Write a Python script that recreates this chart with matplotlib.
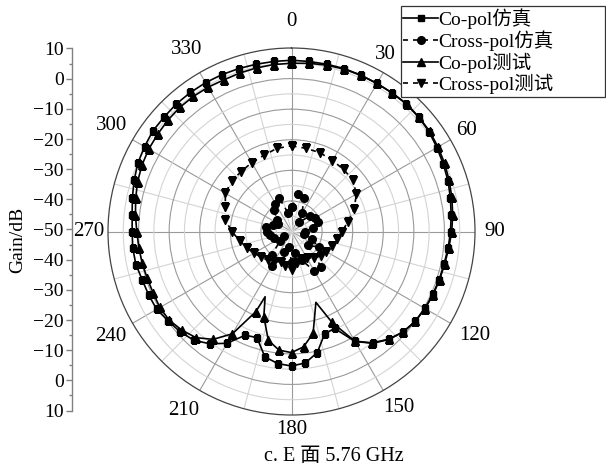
import numpy as np
import matplotlib
matplotlib.use('Agg')
import matplotlib.pyplot as plt
from matplotlib.ticker import MultipleLocator, FuncFormatter

plt.rcParams['font.family'] = ['Liberation Serif', 'Noto Sans CJK SC']
plt.rcParams['axes.unicode_minus'] = True

# ---------------- data (angle in degrees, gain in dB) ----------------
co_sim_deg = list(range(0, 360, 6))
co_sim_db = [6.0, 5.9, 5.9, 6.0, 5.9, 5.9, 6.0, 6.1, 5.9, 5.6,
             4.9, 4.3, 3.8, 3.1, 2.5, 2.0, 1.5, 1.0, 0.8, 0.6,
             0.35, 0.0, -0.9, -2.5, -4.8, -8.5, -15.3, -14.9, -9.5, -6.8,
             -6.0, -6.6, -8.1, -13.5, -12.9, -7.8, -4.6, -2.2, -1.0, -0.2,
             0.9, 1.1, 1.3, 2.0, 2.2, 2.1, 2.4, 3.2, 4.1, 5.0,
             5.5, 6.0, 6.0, 6.2, 6.2, 6.2, 6.1, 6.0, 5.9, 5.9]

co_meas_deg = [0, 6, 12, 18, 24, 30, 36, 42, 48, 54,
               60, 66, 72, 78, 84, 90, 96, 102, 108, 114,
               120, 126, 132, 138, 144, 150, 156, 161, 168, 174,
               180, 186, 192, 198, 202, 204, 210, 216, 222, 228,
               234, 240, 246, 252, 258, 264, 270, 276, 282, 288,
               294, 300, 306, 312, 318, 324, 330, 336, 342, 348, 354]
co_meas_db = [5.0, 5.3, 5.6, 5.8, 5.9, 5.9, 6.0, 6.2, 6.0, 5.8,
              5.3, 4.8, 4.2, 3.6, 3.0, 2.4, 1.7, 1.2, 0.9, 0.7,
              0.4, 0.0, -0.9, -2.6, -5.0, -8.6, -17.5, -25.5, -16.0, -12.1,
              -10.4, -11.0, -13.6, -20.7, -27.0, -21.3, -11.4, -6.4, -3.3, -1.8,
              -0.6, -0.3, -0.5, -0.4, -0.1, 0.2, 0.6, 1.3, 2.1, 2.9,
              3.5, 3.9, 4.1, 4.4, 4.6, 4.6, 4.5, 4.3, 4.5, 4.7, 4.9]

cross_sim_deg = list(range(0, 360, 10))
cross_sim_db = [-42.0, -37.5, -38.3, -43.0, -46.0, -42.0, -41.0, -40.7, -43.0, -45.5,
                -46.0, -43.0, -39.8, -43.0, -35.0, -35.0, -40.0, -43.0, -40.0, -45.0,
                -43.0, -37.0, -40.0, -45.0, -47.0, -44.0, -43.0, -42.0, -41.5, -43.5,
                -45.0, -44.0, -41.0, -39.5, -38.5, -44.0]

cross_meas_deg = list(range(0, 360, 10))
cross_meas_db = [-22.0, -22.4, -22.6, -23.2, -23.5, -23.8, -25.5, -28.2, -31.2, -33.5,
                 -35.0, -36.0, -36.8, -37.5, -38.8, -40.0, -40.5, -39.5, -37.5, -38.5,
                 -39.5, -38.5, -37.8, -37.0, -35.8, -34.5, -32.8, -30.5, -28.0, -27.0,
                 -25.0, -24.4, -24.4, -24.0, -23.5, -22.4]

angle_ticks = [0, 30, 60, 90, 120, 150, 180, 210, 240, 270, 300, 330]
angle_labels = ['0', '30', '60', '90', '120', '150', '180', '210', '240', '270', '300', '330']
legend_labels = ['Co-pol仿真', 'Cross-pol仿真', 'Co-pol测试', 'Cross-pol测试']
caption = 'c. E 面 5.76 GHz'
r_min, r_max = -50, 10

# layout: where each angle label sits (direction in deg, distance in px from centre)
label_dir_deg = [0, 28, 60, 90, 119.5, 148.5, 180, 211, 240, 270, 300.5, 330]
label_dist_px = [210, 201, 202, 203.5, 211, 206, 198.5, 209, 209, 202.5, 209, 210]


def closed(deg, db):
    t = np.deg2rad(np.append(deg, deg[0] + 360))
    return t, np.append(db, db[0])


W, H = 606, 469
fig = plt.figure(figsize=(W / 100, H / 100), dpi=100)
cx, cy, R = 291.5, 231.5, 183.5
ax = fig.add_axes([(cx - R) / W, (H - cy - R) / H, 2 * R / W, 2 * R / H], projection='polar')
ax.set_theta_zero_location('N')
ax.set_theta_direction(-1)
ax.set_ylim(r_min, r_max)

# grids
ax.set_xticks(np.deg2rad(angle_ticks))
ax.set_xticks(np.deg2rad(np.array(angle_ticks) + 15), minor=True)
ax.set_yticks(np.arange(-40, 10, 10))
ax.set_yticks(np.arange(-45, 10, 10), minor=True)
ax.set_xticklabels([])
ax.set_yticklabels([])
ax.grid(True, which='major', color='#9a9a9a', lw=0.8)
ax.grid(True, which='minor', color='#d4d4d4', lw=0.8)
ax.tick_params(axis='y', which='both', length=0)
ax.tick_params(axis='x', which='major', direction='in', length=7, width=0.8, color='#444444')
ax.tick_params(axis='x', which='minor', direction='in', length=3.5, width=0.8, color='#444444')
ax.spines['polar'].set_color('#444444')
ax.spines['polar'].set_linewidth(0.9)

lw = 1.2
t, r = closed(co_sim_deg, co_sim_db)
h1, = ax.plot(t, r, '-', color='k', lw=lw, marker='s', ms=4.8, label=legend_labels[0])
t, r = closed(cross_sim_deg, cross_sim_db)
h2, = ax.plot(t, r, color='k', lw=lw, ls=(0, (3, 3)), marker='o', ms=5.5, label=legend_labels[1])
t, r = closed(co_meas_deg, co_meas_db)
mk = [i for i, d in enumerate(np.append(co_meas_deg, 360)) if d % 6 == 0]
h3, = ax.plot(t, r, '-', color='k', lw=lw, marker='^', ms=5.8, markevery=mk, label=legend_labels[2])
t, r = closed(cross_meas_deg, cross_meas_db)
h4, = ax.plot(t, r, color='k', lw=lw, ls=(0, (3, 3)), marker='v', ms=5.8, label=legend_labels[3])

# angle labels
for txt, adeg, dpx in zip(angle_labels, label_dir_deg, label_dist_px):
    r_lab = r_min + dpx / R * (r_max - r_min)
    ax.text(np.deg2rad(adeg), r_lab, txt, ha='center', va='center', fontsize=15, clip_on=False)

# left gain axis
top_px, bot_px = 48.5, 410.5
axl = fig.add_axes([72 / W, (H - bot_px) / H, 0.0001, (bot_px - top_px) / H])
axl.set_ylim(-(r_max - r_min), (r_max - r_min))
axl.set_xticks([])
for s in ['top', 'right', 'bottom']:
    axl.spines[s].set_visible(False)
axl.spines['left'].set_color('#808080')
axl.spines['left'].set_linewidth(1.0)
axl.yaxis.set_major_locator(MultipleLocator(10))
axl.yaxis.set_minor_locator(MultipleLocator(5))
axl.yaxis.set_major_formatter(FuncFormatter(lambda v, p: f"{abs(v) + r_min:g}".replace('-', '\u2212')))
axl.tick_params(axis='y', which='major', direction='out', length=4, width=1, color='#808080', labelsize=14, pad=2)
axl.tick_params(axis='y', which='minor', direction='out', length=2.5, width=1, color='#808080')
axl.patch.set_visible(False)

fig.text(17.5 / W, 1 - 240 / H, 'Gain/dB', rotation=90, ha='center', va='center', fontsize=14)
fig.text(334 / W, 1 - 456 / H, caption, ha='center', va='center', fontsize=14.5)

x0, y0, x1, y1 = 401 / W, 1 - 95 / H, 605 / W, 1 - 6 / H
leg = fig.legend(handles=[h1, h2, h3, h4], loc='upper left', bbox_to_anchor=(x0, y0, x1 - x0, y1 - y0),
                 mode='expand', frameon=True, fancybox=False, edgecolor='#333333', framealpha=1, fontsize=14,
                 handlelength=1.8, handletextpad=0.0, labelspacing=0.07, borderpad=0.12,
                 borderaxespad=0, numpoints=1)
leg.get_frame().set_linewidth(0.9)

fig.savefig('out.png', dpi=100)
